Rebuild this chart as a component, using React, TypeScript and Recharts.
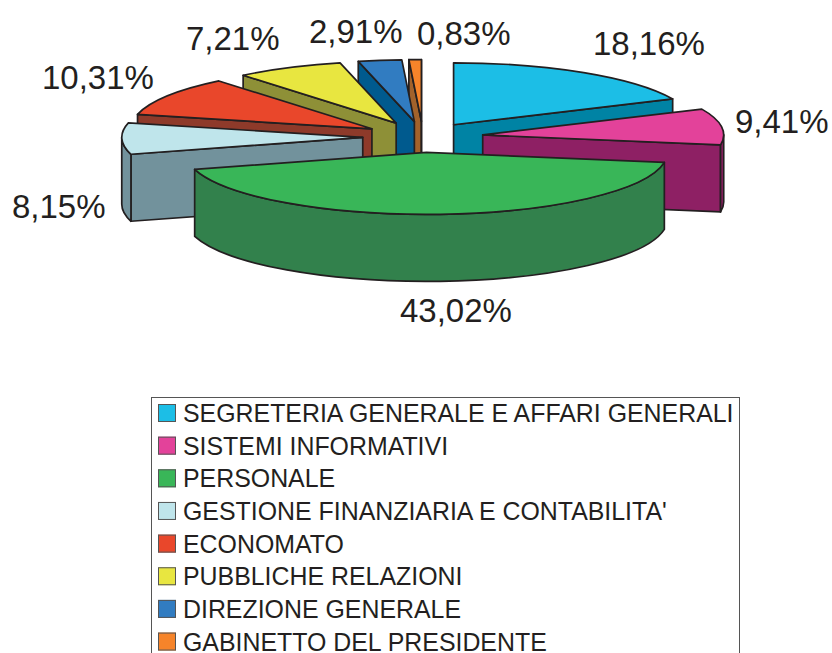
import React from 'react';
import { PieChart, Pie, Legend } from 'recharts';

const categories = [
    'SEGRETERIA GENERALE E AFFARI GENERALI',
    'SISTEMI INFORMATIVI',
    'PERSONALE',
    "GESTIONE FINANZIARIA E CONTABILITA'",
    'ECONOMATO',
    'PUBBLICHE RELAZIONI',
    'DIREZIONE GENERALE',
    'GABINETTO DEL PRESIDENTE',
];
const shares = [18.16, 9.41, 43.02, 8.15, 10.31, 7.21, 2.91, 0.83];
const topColors = ['#1cbee6', '#e3429a', '#39b658', '#bfe5eb', '#e9472b', '#e8e640', '#317cc1', '#f6842a'];
const wallColors = ['#0083a4', '#8e2064', '#32814c', '#72929c', '#8e3a2a', '#8e9037', '#005a8e', '#a2622b'];
// how far each wedge is pulled out, as a share of the radius
const explode = [0.235, 0.25, 0.25, 0.25, 0.25, 0.25, 0.25, 0.25];

// left edge and baseline of each percentage label
const labelX = [593, 735, 400, 12, 42, 186, 309, 417];
const labelY = [55, 133, 322, 218, 89, 50, 43, 45];

// back to front, the wedges overlap each other
const paintOrder = [7, 6, 5, 4, 3, 0, 1, 2];

const rows = categories.map((name, i) => ({ name, value: shares[i], idx: i }));

const SQUASH = 0.257;
const DEPTH = 67;
const INK = '#231f20';
const rad = (d: number) => (d * Math.PI) / 180;

const Wedge = (props: any) => {
    const { cx, cy, outerRadius, startAngle, endAngle, midAngle, idx } = props;
    const rx = outerRadius;
    const ry = outerRadius * SQUASH;
    const ax = cx + explode[idx] * rx * Math.cos(rad(midAngle));
    const ay = cy - explode[idx] * ry * Math.sin(rad(midAngle));
    const pt = (a: number, down = 0) => [ax + rx * Math.cos(rad(a)), ay - ry * Math.sin(rad(a)) + down];
    const line = { stroke: INK, strokeWidth: 1.7, strokeLinejoin: 'round' as const };
    const wall = wallColors[idx];

    const face = (a: number) => {
        const [x, y] = pt(a);
        return `M${ax},${ay} L${x},${y} L${x},${y + DEPTH} L${ax},${ay + DEPTH} Z`;
    };
    // cut faces only show when their normal points down the screen
    const startVisible = Math.sin(rad(startAngle + 90)) < 0;
    const endVisible = Math.sin(rad(endAngle - 90)) < 0;

    // outer rim, only the front half of the ellipse
    const hi = Math.min(startAngle, 0);
    const lo = Math.max(endAngle, -180);
    let rim = null;
    if (hi > lo) {
        const [x1, y1] = pt(hi);
        const [x2, y2] = pt(lo);
        rim = `M${x1},${y1} A${rx},${ry} 0 0 1 ${x2},${y2} L${x2},${y2 + DEPTH} A${rx},${ry} 0 0 0 ${x1},${y1 + DEPTH} Z`;
    }

    const [sx, sy] = pt(startAngle);
    const [ex, ey] = pt(endAngle);
    const large = startAngle - endAngle > 180 ? 1 : 0;
    const top = `M${ax},${ay} L${sx},${sy} A${rx},${ry} 0 ${large} 1 ${ex},${ey} Z`;

    return (
        <g>
            {startVisible && <path d={face(startAngle)} fill={wall} {...line} />}
            {endVisible && <path d={face(endAngle)} fill={wall} {...line} />}
            {rim && <path d={rim} fill={wall} {...line} />}
            <path d={top} fill={topColors[idx]} {...line} />
        </g>
    );
};

const percentLabel = (props: any) => {
    const i = props.payload?.idx ?? props.idx ?? props.index;
    return (
        <text
            key={i}
            x={labelX[i]}
            y={labelY[i]}
            fill={INK}
            fontSize={33}
            fontFamily="Liberation Sans"
        >
            {shares[i].toFixed(2).replace('.', ',')}%
        </text>
    );
};

const LegendBox = () => (
    <div
        style={{
            width: 589,
            height: 270,
            boxSizing: 'border-box',
            border: '1.5px solid #555',
            background: '#fff',
            fontFamily: 'Liberation Sans',
            fontSize: 24.9,
            color: INK,
            position: 'relative',
        }}
    >
        {categories.map((name, i) => (
            <div
                key={name}
                style={{ position: 'absolute', left: 6, top: 0, transform: `translateY(${4 + i * 32.65}px)`, display: 'flex', alignItems: 'center', height: 22, lineHeight: '22px', whiteSpace: 'nowrap' }}
            >
                <span
                    style={{
                        display: 'inline-block',
                        width: 18,
                        height: 18,
                        boxSizing: 'border-box',
                        border: '1.5px solid #555',
                        background: topColors[i],
                        marginRight: 7,
                    }}
                />
                {name}
            </div>
        ))}
    </div>
);

export default function App() {
    return (
        <div style={{ position: 'absolute', left: 0, top: 0, width: 832, height: 653, overflow: 'hidden', background: '#fff' }}>
            <PieChart width={832} height={653} margin={{ top: 0, right: 0, bottom: 0, left: 0 }}>
                {paintOrder.map((p, n) => {
                    const draw = (props: any) => (props.idx === p ? <Wedge {...props} /> : <g />);
                    return (
                        <Pie
                            key={p}
                            data={rows}
                            dataKey="value"
                            nameKey="name"
                            cx={423}
                            cy={137}
                            innerRadius={0}
                            outerRadius={241}
                            startAngle={90}
                            endAngle={-270}
                            stroke="none"
                            legendType="none"
                            shape={draw}
                            inactiveShape={draw}
                            activeShape={draw}
                            label={n === paintOrder.length - 1 ? percentLabel : false}
                            labelLine={false}
                            isAnimationActive={false}
                        />
                    );
                })}
                <Legend
                    content={<LegendBox />}
                    layout="vertical"
                    wrapperStyle={{ position: 'absolute', left: 151, top: 397, width: 589, height: 270, bottom: 'auto' }}
                />
            </PieChart>
        </div>
    );
}
